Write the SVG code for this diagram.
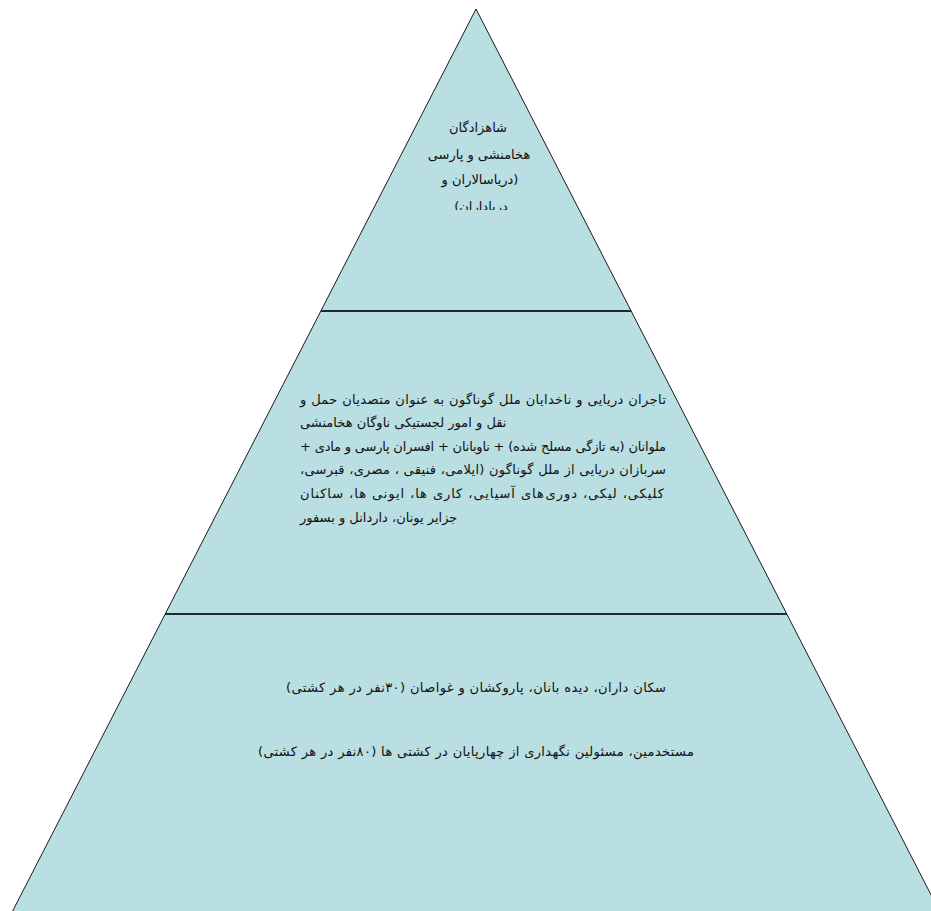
<svg xmlns="http://www.w3.org/2000/svg" width="931" height="911" viewBox="0 0 931 911">
<style>
.tier{fill:#b9dfe3;stroke:#1a1a1a;stroke-width:1}
.div{stroke:#1f2a2c;stroke-width:2}
text{font-family:"DejaVu Sans","Liberation Serif",serif;font-size:13px;fill:#111;direction:rtl;unicode-bidi:embed}
.c{text-anchor:middle}
.r{text-anchor:start}
.l{text-anchor:end}
</style>
<defs>
<clipPath id="topclip"><rect x="300" y="100" width="350" height="110"/></clipPath>
</defs>
<rect width="931" height="911" fill="#ffffff"/>
<g id="pyramid">
<polygon class="tier" points="476,9 7,922 945,922"/>
</g>
<g id="connectors">
<line class="div" x1="321" y1="311" x2="631" y2="311"/>
<line class="div" x1="165" y1="614" x2="787" y2="614"/>
</g>
<g id="tier-top" clip-path="url(#topclip)">
<text class="c" x="478" y="132">شاهزادگان</text>
<text class="c" x="479" y="159">هخامنشی و پارسی</text>
<text class="c" x="480" y="184">(دریاسالاران و</text>
<text class="c" x="481" y="211">دریاداران)</text>
</g>
<g id="tier-middle">
<text class="r" x="666" y="404" textLength="366" lengthAdjust="spacing">تاجران دریایی و ناخدایان ملل گوناگون به عنوان متصدیان حمل و</text>
<text class="l" x="300" y="427">نقل و امور لجستیکی ناوگان هخامنشی</text>
<text class="r" x="666" y="451" textLength="366" lengthAdjust="spacing">ملوانان (به تازگی مسلح شده) + ناوبانان + افسران پارسی و مادی +</text>
<text class="r" x="666" y="474" textLength="366" lengthAdjust="spacing">سربازان دریایی از ملل گوناگون (ایلامی، فنیقی ، مصری، قبرسی،</text>
<text class="r" x="664" y="498" textLength="364" lengthAdjust="spacing">کلیکی،  لیکی، دوری‌های آسیایی،  کاری ها، ایونی ها، ساکنان</text>
<text class="l" x="300" y="522">جزایر  یونان، داردانل و بسفور</text>
</g>
<g id="tier-bottom">
<text class="c" x="476" y="692" textLength="380" lengthAdjust="spacing">سکان داران، دیده بانان، پاروکشان و غواصان (۳۰نفر در هر کشتی)</text>
<text class="c" x="476" y="756" textLength="436" lengthAdjust="spacing">مستخدمین، مسئولین نگهداری از چهارپایان در کشتی ها (۸۰نفر در هر کشتی)</text>
</g>
</svg>
